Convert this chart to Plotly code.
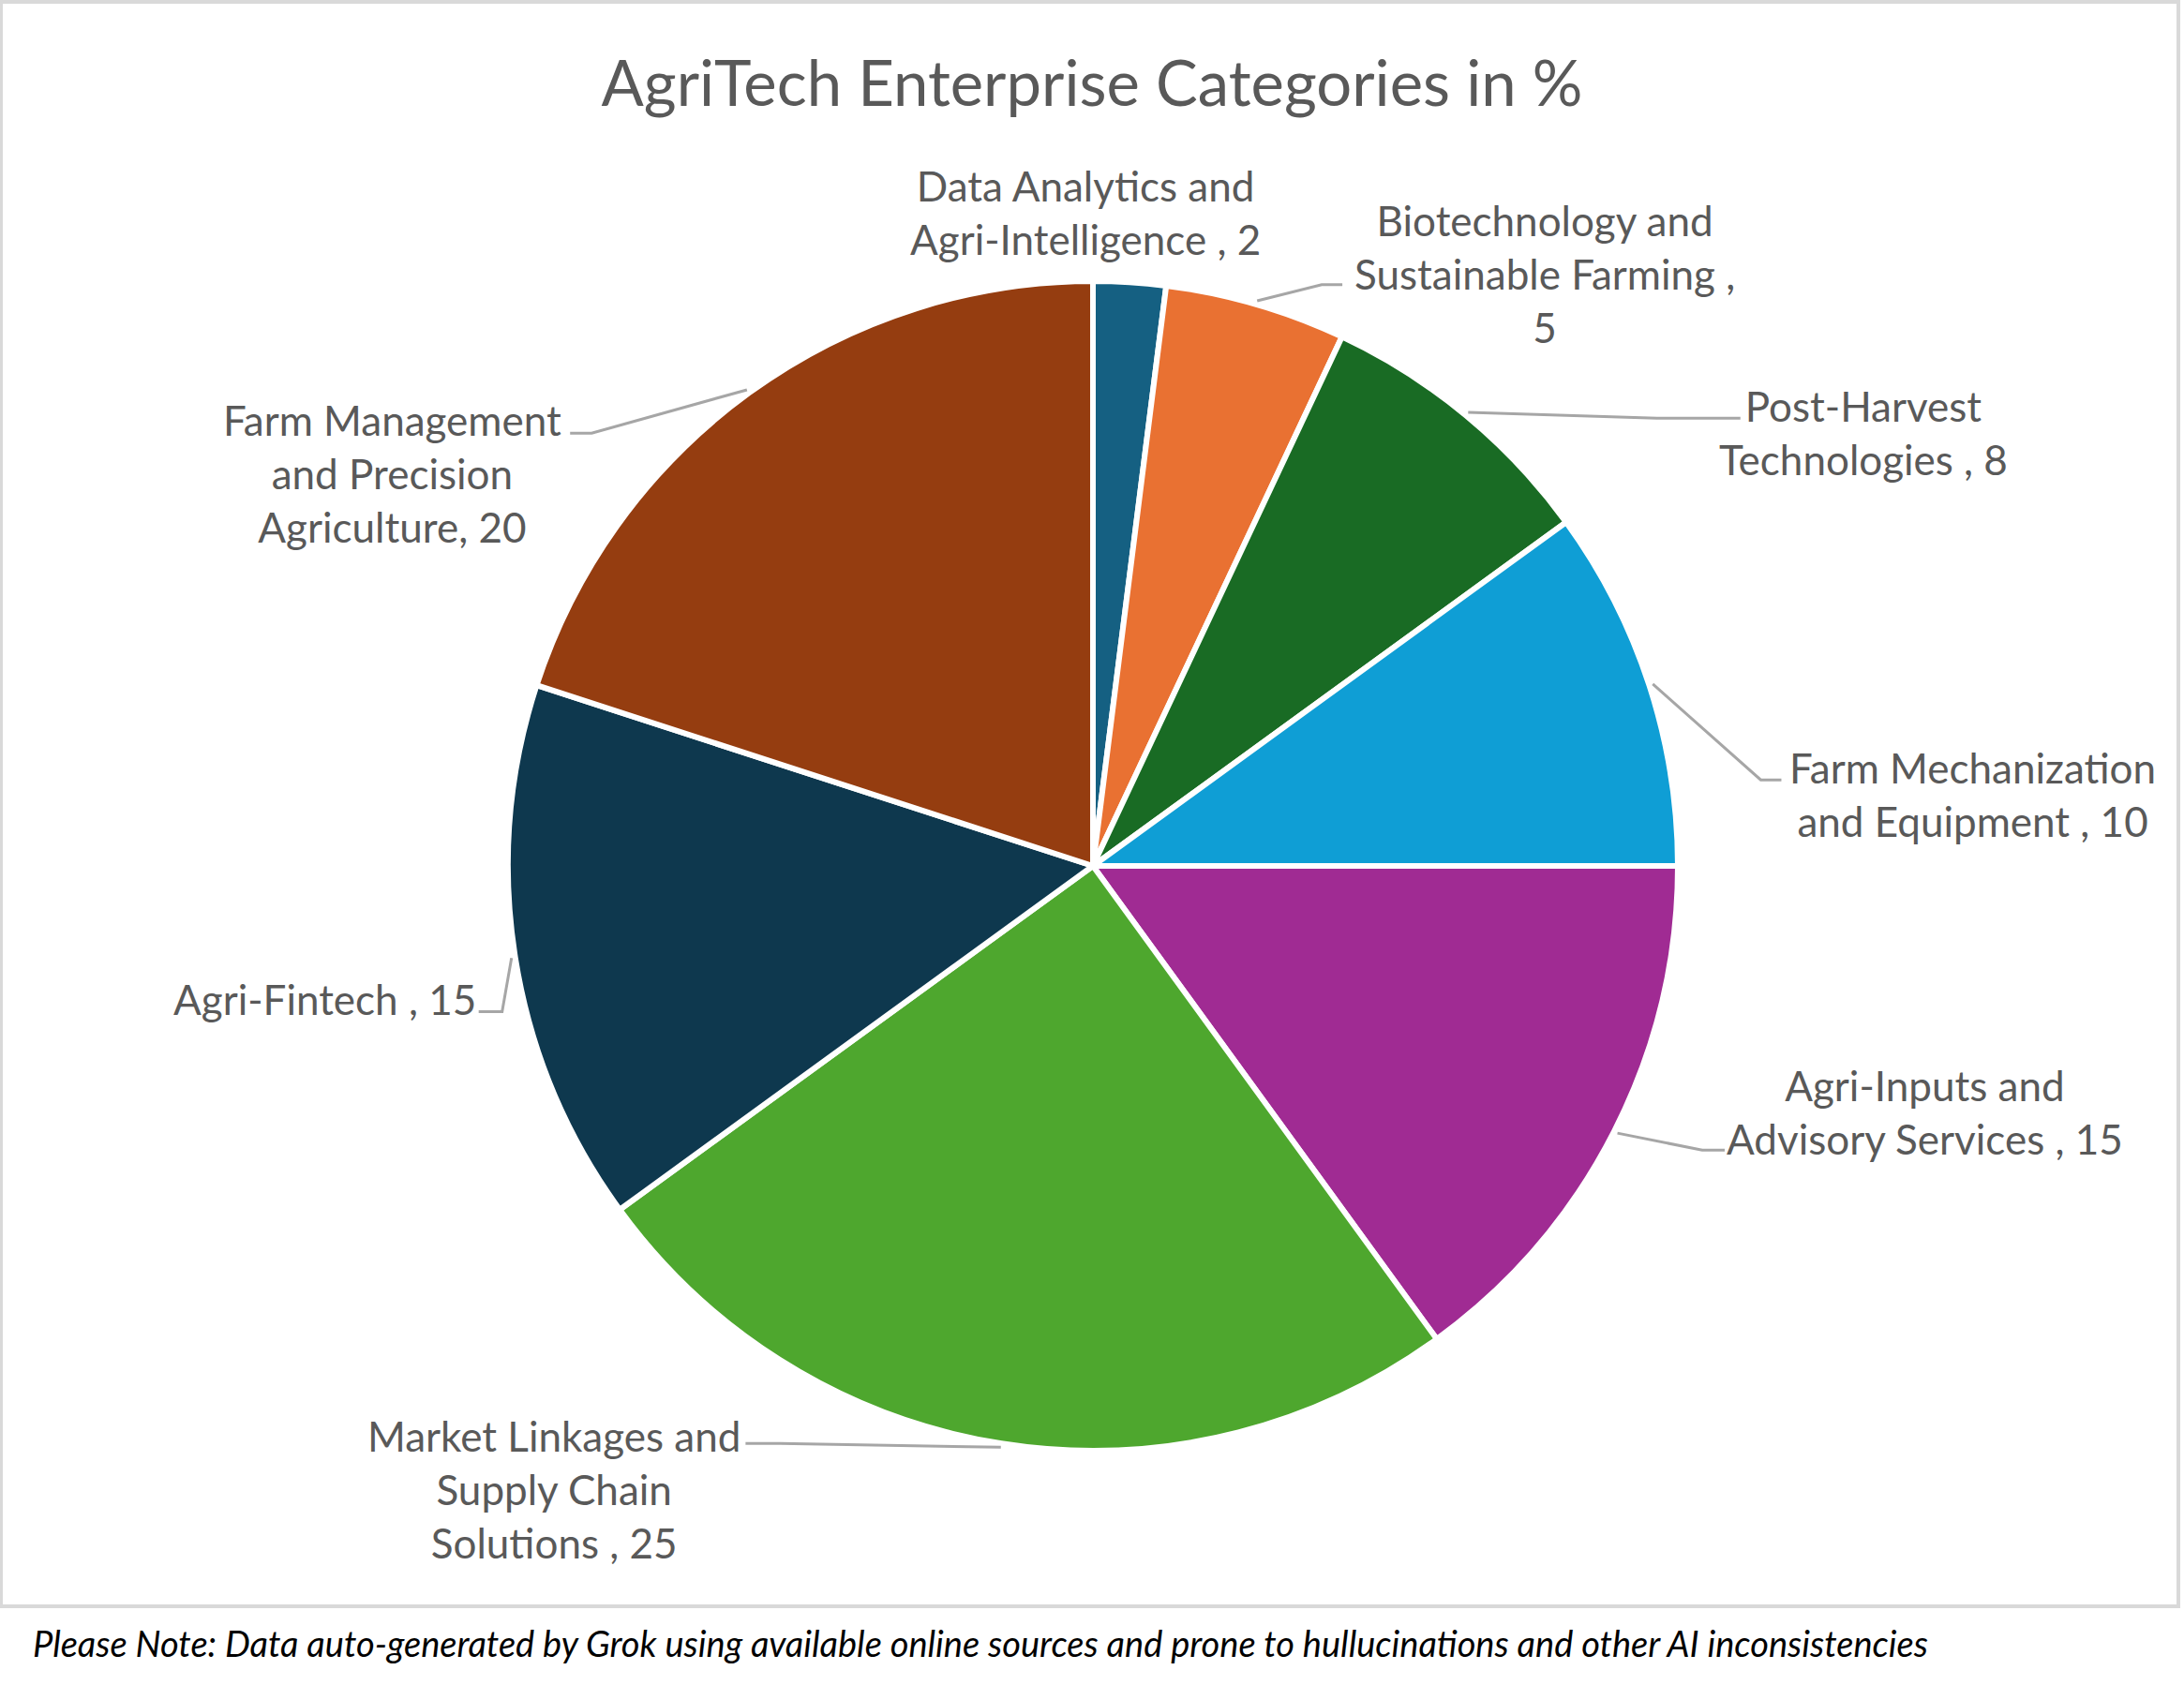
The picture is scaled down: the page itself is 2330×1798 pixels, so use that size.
import math
import plotly.graph_objects as go

# ── data (Excel-style pie, clockwise from 12 o'clock) ──
CATEGORIES = [
    "Data Analytics and Agri-Intelligence",
    "Biotechnology and Sustainable Farming",
    "Post-Harvest Technologies",
    "Farm Mechanization and Equipment",
    "Agri-Inputs and Advisory Services",
    "Market Linkages and Supply Chain Solutions",
    "Agri-Fintech",
    "Farm Management and Precision Agriculture",
]
LABEL_TEXT = [
    "Data Analytics and<br>Agri-Intelligence , 2",
    "Biotechnology and<br>Sustainable Farming ,<br>5",
    "Post-Harvest<br>Technologies , 8",
    "Farm Mechanization<br>and Equipment , 10",
    "Agri-Inputs and<br>Advisory Services , 15",
    "Market Linkages and<br>Supply Chain<br>Solutions , 25",
    "Agri-Fintech , 15",
    "Farm Management<br>and Precision<br>Agriculture, 20",
]
VALUES = [2, 5, 8, 10, 15, 25, 15, 20]
COLORS = ["#156082", "#E97132", "#196B24", "#0F9ED5",
          "#A02B93", "#4EA72E", "#0E384E", "#953D10"]

# label placement relative to the slice's outer edge point (pixels, y down)
LABEL_OFF = [(-47, -75), (308, -33), (424, 18), (345, 116),
             (332, -21), (-477, 49), (-203, 44), (-381, 86)]
# leader elbow and end points relative to the same edge point; None = no leader
LEADER_OFF = [
    None,
    ((70, -21), (92, -21)),
    ((204, 3), (293, 3)),
    ((119, 101), (141, 101)),
    ((94, 20), (118, 20)),
    ((-236, 0), (-273, 0)),
    ((-14, 58), (-39, 58)),
    ((-168, 43), (-191, 43)),
]

TITLE = "AgriTech Enterprise Categories in %"
NOTE = ("Please Note: Data auto-generated by Grok using available online sources "
        "and prone to hullucinations and other AI inconsistencies")

# ── layout constants ──
W, H = 2330, 1798
CX, CY, R = 1166, 924, 624
TEXT = "#595959"
LEADER_CLR = "#A6A6A6"
FRAME = "#D9D9D9"
FONT = "Lato, 'Open Sans', sans-serif"


def px_to_paper(x, y):
    return x / W, 1 - y / H


fig = go.Figure(go.Pie(
    labels=CATEGORIES, values=VALUES,
    sort=False, direction="clockwise", rotation=0,
    marker=dict(colors=COLORS, line=dict(color="white", width=6)),
    textinfo="none", hoverinfo="label+value",
    domain=dict(x=[(CX - R) / W, (CX + R) / W],
                y=[1 - (CY + R) / H, 1 - (CY - R) / H]),
    showlegend=False,
))

total = sum(VALUES)
cum = 0
annotations = []
shapes = []
for txt, v, (dx, dy), lead in zip(LABEL_TEXT, VALUES, LABEL_OFF, LEADER_OFF):
    mid = (cum + v / 2) / total * 2 * math.pi
    cum += v
    ex = CX + R * math.sin(mid)
    ey = CY - R * math.cos(mid)
    tx, ty = px_to_paper(ex + dx, ey + dy)
    annotations.append(dict(
        x=tx, y=ty, xref="paper", yref="paper", xanchor="center", yanchor="middle",
        text=txt, showarrow=False, align="center",
        font=dict(family=FONT, size=44, color=TEXT),
    ))
    if lead:
        sx, sy = px_to_paper(CX + (R + 4) * math.sin(mid), CY - (R + 4) * math.cos(mid))
        bx, by = px_to_paper(ex + lead[0][0], ey + lead[0][1])
        qx, qy = px_to_paper(ex + lead[1][0], ey + lead[1][1])
        shapes.append(dict(type="path", xref="paper", yref="paper",
                           path=f"M {sx} {sy} L {bx} {by} L {qx} {qy}",
                           line=dict(color=LEADER_CLR, width=3)))

nx, ny = px_to_paper(33, 1753)
annotations.append(dict(
    x=nx, y=ny, xref="paper", yref="paper", xanchor="left", yanchor="middle",
    text=f"<i>{NOTE}</i>", showarrow=False,
    font=dict(family=FONT, size=38, color="#000000"),
))

shapes.append(dict(type="rect", xref="paper", yref="paper",
                   x0=1 / W, x1=1 - 6 / W, y0=1 - 1714 / H, y1=1 - 2 / H,
                   line=dict(color=FRAME, width=4), fillcolor="rgba(0,0,0,0)",
                   layer="below"))

fig.update_layout(
    width=W, height=H,
    margin=dict(l=0, r=0, t=0, b=0),
    paper_bgcolor="white", plot_bgcolor="white",
    title=dict(text=TITLE, x=0.5, xanchor="center", y=1 - 90 / H, yanchor="middle",
               font=dict(family=FONT, size=67, color=TEXT)),
    annotations=annotations,
    shapes=shapes,
)

fig.write_html("out.html", config={"displayModeBar": False},
               post_script="document.body.style.margin='0';")
